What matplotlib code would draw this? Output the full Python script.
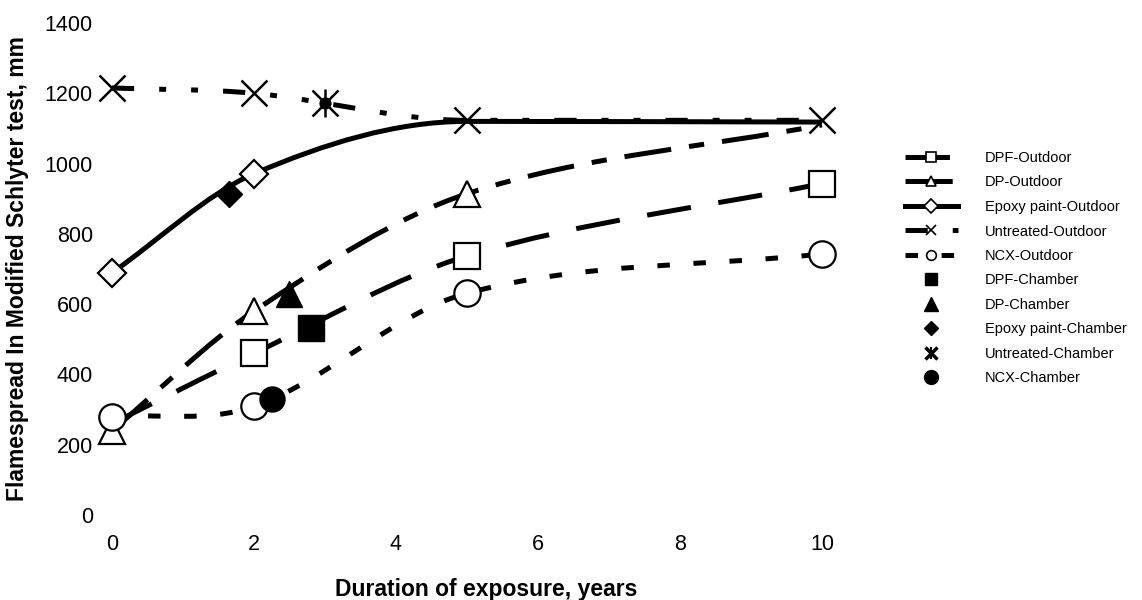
import numpy as np
import matplotlib
matplotlib.use('Agg')
import matplotlib.pyplot as plt
from matplotlib.path import Path
from matplotlib.patches import PathPatch
from matplotlib.lines import Line2D
from matplotlib.legend_handler import HandlerTuple

plt.rcParams['font.family'] = ['Liberation Sans', 'DejaVu Sans']
plt.rcParams['lines.scale_dashes'] = False

# outdoor exposure (years) and flamespread (mm)
years_out = [0, 2, 5, 10]
dpf_out = [260, 460, 737, 943]
dp_out = [240, 580, 914, 1110]
epoxy_out = [689, 971, 1120, 1118]
untreated_out = [1215, 1200, 1123, 1123]
ncx_out = [280, 309, 631, 743]

# accelerated chamber results (equivalent years, flamespread mm)
dpf_ch_x, dpf_ch_y = [2.8], [531]
dp_ch_x, dp_ch_y = [2.5], [630]
epoxy_ch_x, epoxy_ch_y = [1.65], [914]
untreated_ch_x, untreated_ch_y = [3.0], [1171]
ncx_ch_x, ncx_ch_y = [2.25], [330]

x_ticks = [0, 2, 4, 6, 8, 10]
y_ticks = [0, 200, 400, 600, 800, 1000, 1200, 1400]


def smooth_path(xs, ys):
    # cubic bezier through the measured points; flat tangent where the trend turns
    xs = np.asarray(xs, float)
    ys = np.asarray(ys, float)
    sec = np.diff(ys) / np.diff(xs)
    m = np.empty(len(xs))
    m[0], m[-1] = sec[0], sec[-1]
    m[1:-1] = (ys[2:] - ys[:-2]) / (xs[2:] - xs[:-2])
    m[1:-1][sec[:-1] * sec[1:] <= 0] = 0
    verts = [(xs[0], ys[0])]
    codes = [Path.MOVETO]
    for i in range(len(xs) - 1):
        h = (xs[i + 1] - xs[i]) / 3
        verts += [(xs[i] + h, ys[i] + m[i] * h),
                  (xs[i + 1] - h, ys[i + 1] - m[i + 1] * h),
                  (xs[i + 1], ys[i + 1])]
        codes += [Path.CURVE4] * 3
    return Path(verts, codes)


fig = plt.figure(figsize=(11.42, 6), dpi=100)
ax = fig.add_axes([0.0825, 0.1417, 0.6559, 0.82])

LW = 3.6
series = [
    ('DPF-Outdoor', dpf_out, (0, (32, 20)), 's', 19, [1, 2, 3]),
    ('DP-Outdoor', dp_out, (0, (34, 13, 11, 13)), '^', 19, [0, 1, 2]),
    ('Epoxy paint-Outdoor', epoxy_out, '-', 'D', 14, [0, 1]),
    ('Untreated-Outdoor', untreated_out, (0, (16, 18, 5, 18, 5, 18)), 'x', 19, [0, 1, 2, 3]),
    ('NCX-Outdoor', ncx_out, (0, (9, 17)), 'o', 19, [0, 1, 2, 3]),
]

handles = []
for name, vals, ls, mk, ms, every in series:
    ax.add_patch(PathPatch(smooth_path(years_out, vals), fill=False, ec='black',
                           lw=LW, ls=ls, clip_on=False, zorder=2))
    ax.plot(years_out, vals, ls='none', marker=mk, ms=ms, mfc='white', mec='black',
            mew=1.6 if mk != 'x' else 1.8, markevery=every, clip_on=False, zorder=3)
    handles.append(Line2D([], [], color='black', lw=LW, ls=ls, marker=mk, ms=7,
                          mfc='white', mec='black', mew=1.2))

ax.plot(dpf_ch_x, dpf_ch_y, ls='none', marker='s', ms=19, color='black', zorder=4)
ax.plot(dp_ch_x, dp_ch_y, ls='none', marker='^', ms=19, color='black', zorder=4)
ax.plot(epoxy_ch_x, epoxy_ch_y, ls='none', marker='D', ms=13, color='black', zorder=4)
ax.plot(ncx_ch_x, ncx_ch_y, ls='none', marker='o', ms=18, color='black', zorder=4)
for mk, s in [('x', 19), ('|', 20), ('o', 7)]:
    ax.plot(untreated_ch_x, untreated_ch_y, ls='none', marker=mk, ms=s, mew=1.8,
            color='black', zorder=4)

handles += [
    Line2D([], [], ls='none', marker='s', ms=9, color='black'),
    Line2D([], [], ls='none', marker='^', ms=10, color='black'),
    Line2D([], [], ls='none', marker='D', ms=7, color='black'),
    (Line2D([], [], ls='none', marker='x', ms=9, mew=2.5, color='black'),
     Line2D([], [], ls='none', marker='|', ms=9, mew=1.5, color='black')),
    Line2D([], [], ls='none', marker='o', ms=10, color='black'),
]
labels = [s[0] for s in series] + ['DPF-Chamber', 'DP-Chamber', 'Epoxy paint-Chamber',
                                   'Untreated-Chamber', 'NCX-Chamber']

ax.set_xlim(-0.25, 10.3)
ax.set_ylim(0, 1400)
ax.set_xticks(x_ticks)
ax.set_yticks(y_ticks)
ax.tick_params(axis='both', length=0, labelsize=15.5)
ax.tick_params(axis='x', pad=14)
ax.tick_params(axis='y', pad=1)
for sp in ax.spines.values():
    sp.set_visible(False)

ax.set_xlabel('Duration of exposure, years', fontsize=16.5, fontweight='bold',
              va='center')
ax.xaxis.set_label_coords(0.523, -0.152)
ax.set_ylabel('Flamespread In Modified Schlyter test, mm', fontsize=16.5,
              fontweight='bold', va='center', ha='center')
ax.yaxis.set_label_coords(-0.103, 0.5)

fig.legend(handles, labels, loc='upper left', bbox_to_anchor=(905 / 1142, 1 - 151 / 600),
           frameon=False, fontsize=10.5, handlelength=3.6, handletextpad=1.9,
           labelspacing=0.72, borderpad=0, borderaxespad=0, numpoints=1,
           handler_map={tuple: HandlerTuple(ndivide=1)})

plt.savefig('out.png', dpi=100)
